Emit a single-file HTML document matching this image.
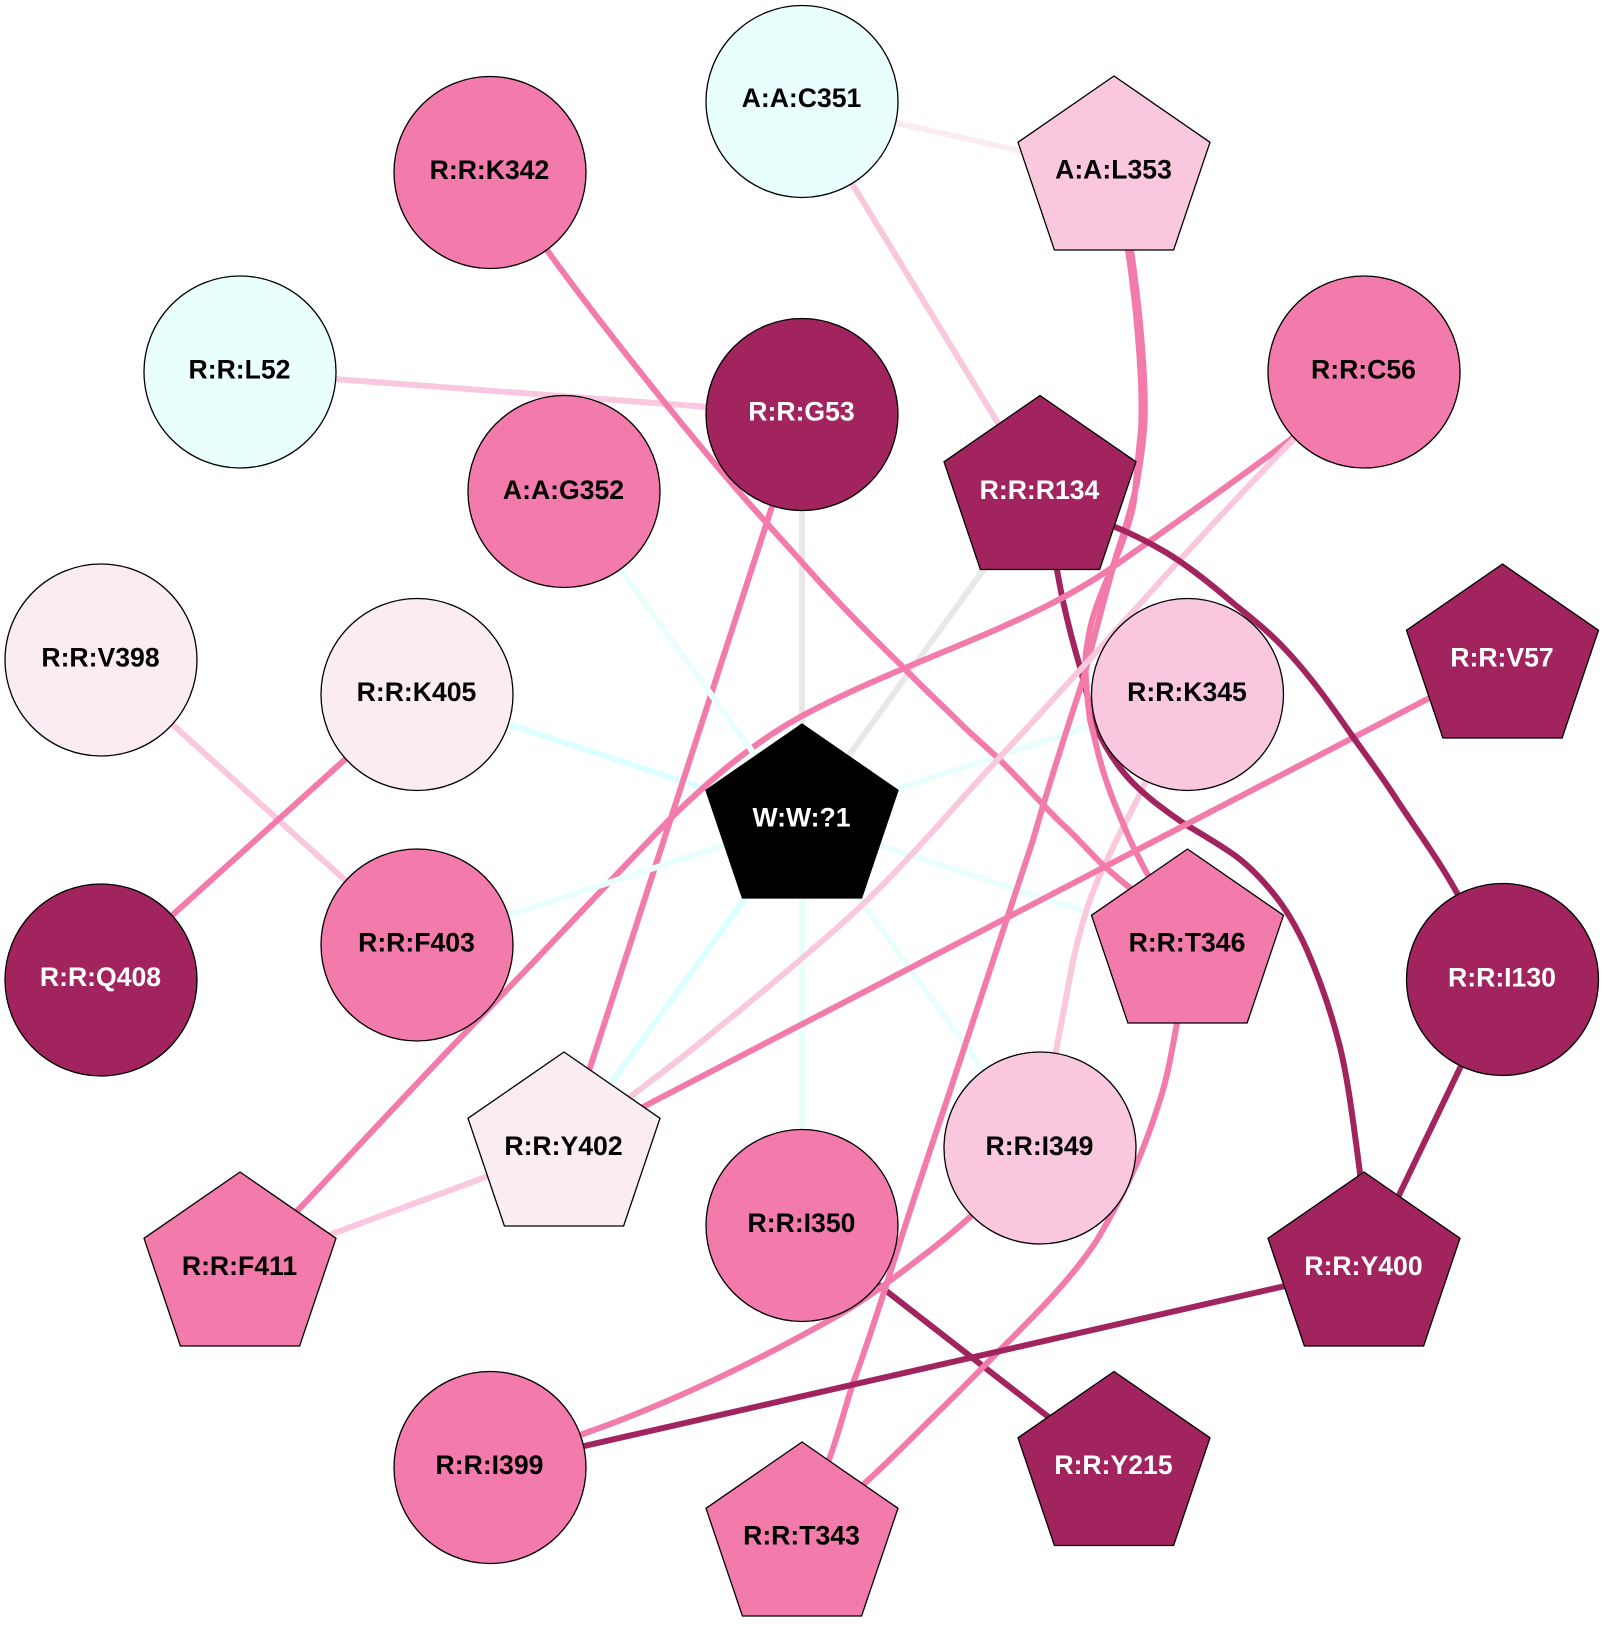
<!DOCTYPE html>
<html>
<head>
<meta charset="utf-8">
<style>
html,body{margin:0;padding:0;background:#fff;}
svg{display:block;}
text{font-family:"Liberation Sans",Arial,sans-serif;font-weight:bold;font-size:26.6px;text-anchor:middle;fill:#000;}
text.w{fill:#fff;}
.e{fill:none;stroke-width:6;}
.n{stroke:#000;stroke-width:1.3;}
.pk{stroke:#f27bab;}
.dk{stroke:#a1245f;}
.lt{stroke:#f9c8de;}
.pl{stroke:#fbebf3;}
.cy{stroke:#e8fffe;}
.cb{stroke:#dcffff;}
.gr{stroke:#e8e8e8;}
</style>
</head>
<body>
<svg width="1604" height="1640" viewBox="0 0 1604 1640" xmlns="http://www.w3.org/2000/svg">
<rect width="1604" height="1640" fill="#fff"/>
<!-- edges to W -->
<path class="e gr" d="M802,414 L802,820"/>
<path class="e gr" d="M1040,492 L802,820"/>
<path class="e cb" d="M417,694.5 L802,820"/>
<path class="e cb" d="M564,1148 L802,820"/>
<path class="e cy" d="M1187.5,694.5 L802,820"/>
<path class="e cy" d="M1187.5,945 L802,820"/>
<path class="e cy" d="M1040,1148 L802,820"/>
<path class="e cy" d="M802,1225.5 L802,820"/>
<!-- light edges -->
<path class="e pl" d="M802,101.5 L1113.5,172"/>
<path class="e lt" d="M802,101.5 L1040,492"/>
<path class="e lt" d="M240,372 L802,414"/>
<path class="e lt" d="M101,660 L417,945"/>
<path class="e lt" d="M240,1268 L564,1148"/>
<path class="e lt" d="M1040,1148 C1047,1105 1053,1065 1060,1030 C1067,995 1072,960 1080,933 C1087,905 1097,880 1107,860 C1117,838 1127,820 1137,800 L1187,694"/>
<!-- dark under pink -->
<path class="e dk" d="M802,1225.5 L1113.5,1467.5"/>
<path class="e dk" d="M1040,492 L1057,570 C1063,605 1072,640 1080,667 C1087,695 1092,715 1097,730 C1108,752 1120,770 1133,783 C1150,800 1165,810 1183,823 C1200,833 1215,842 1230,852 C1245,862 1260,877 1273,893 C1287,910 1298,930 1307,950 C1320,980 1332,1015 1340,1047 C1348,1080 1353,1120 1360,1173 L1364,1268"/>
<!-- pink edges -->
<path class="e pk" d="M417,694.5 L101,979.5"/>
<path class="e pk" d="M802,414 L564,1148"/>
<path class="e pk" d="M1502.5,660 L564,1148"/>
<path class="e pk" d="M490,172 L547,250 C590,310 660,398 716,465 C745,500 775,532 800,560 C835,600 870,635 903,667 C925,690 945,708 960,723 C975,738 990,750 1000,760 C1022,782 1040,802 1060,822 C1078,838 1090,853 1103,865 C1112,873 1120,880 1130,888 L1187.5,945"/>
<path class="e pk" d="M1364,372 L1290,440 C1250,470 1180,520 1113,567 C1070,597 1020,620 960,645 C905,668 850,690 800,717 C750,745 710,780 672,817 C620,870 560,935 500,997 C430,1068 360,1145 300,1208 L240,1268"/>
<path class="e pk" d="M1114,172 L1131,250 C1140,310 1148.5,400 1143,440 C1141,460 1138,475 1137,483 C1132,505 1125,530 1117,553 C1105,595 1095,635 1083,680 C1070,720 1050,780 1033,840 C1010,910 975,1015 947,1100 C925,1165 905,1225 887,1283 C875,1320 860,1365 853,1383 C845,1408 838,1435 830,1457 L802,1538"/>
<path class="e pk" d="M1114,172 L1128,250 C1137,310 1145,400 1140,440 C1137,465 1136,490 1133,507 C1124,545 1110,570 1100,597 C1094,612 1090,625 1088,640 C1085,655 1085,665 1086,680 C1087,695 1088,705 1090,720 C1094,735 1097,750 1100,760 C1108,790 1118,812 1130,840 C1136,852 1142,865 1148,875 L1187.5,945"/>
<path class="e pk" d="M1188,945 C1186,975 1180,1005 1177,1023 C1172,1050 1168,1075 1160,1100 C1153,1122 1146,1142 1137,1163 C1125,1190 1112,1215 1097,1240 C1072,1278 1040,1310 1007,1343 C982,1368 957,1394 930,1420 C910,1440 885,1465 865,1483 L802,1538"/>
<path class="e pk" d="M1040,1148 L970,1217 C945,1240 915,1262 887,1283 C868,1297 850,1309 830,1320 C750,1365 665,1405 583,1434 L490,1467"/>
<!-- light curve over pinks -->
<path class="e lt" d="M1364,372 L1293,440 C1250,483 1215,522 1177,563 C1145,598 1115,632 1080,670 C1055,697 1030,725 1000,757 C955,805 910,860 860,907 C825,940 765,990 700,1043 C675,1063 655,1078 630,1097 L564,1148"/>
<!-- dark on top -->
<path class="e dk" d="M1502.5,979.5 L1364,1268"/>
<path class="e dk" d="M1364,1268 L490,1467.5"/>
<path class="e dk" d="M1040,492 L1115,527 C1135,535 1150,543 1167,553 C1190,567 1212,585 1233,603 C1250,617 1267,630 1283,647 C1310,675 1333,708 1353,737 C1368,758 1383,778 1397,800 C1418,832 1440,862 1457,893 L1502,979.5"/>
<!-- pale edges on top -->
<path class="e cy" d="M564,491.5 L802,820"/>
<path class="e cy" d="M417,945 L802,820"/>

<!-- circle nodes -->
<circle class="n" cx="802" cy="101.5" r="96" fill="#e8fffe"/>
<text x="801.5" y="107">A:A:C351</text>
<circle class="n" cx="490" cy="172.5" r="96" fill="#f27bab"/>
<text x="489.5" y="179">R:R:K342</text>
<circle class="n" cx="240" cy="372" r="96" fill="#e8fffe"/>
<text x="239.5" y="378.5">R:R:L52</text>
<circle class="n" cx="802" cy="414.5" r="96" fill="#a1245f"/>
<text class="w" x="801.5" y="420.5">R:R:G53</text>
<circle class="n" cx="564" cy="491.5" r="96" fill="#f27bab"/>
<text x="563.5" y="499">A:A:G352</text>
<circle class="n" cx="1364" cy="372" r="96" fill="#f27bab"/>
<text x="1363.5" y="378.5">R:R:C56</text>
<circle class="n" cx="101" cy="660" r="96" fill="#fbebf3"/>
<text x="100.5" y="666.5">R:R:V398</text>
<circle class="n" cx="417" cy="694.5" r="96" fill="#fbebf3"/>
<text x="416.5" y="701">R:R:K405</text>
<circle class="n" cx="1187.5" cy="694.5" r="96" fill="#f9c8de"/>
<text x="1187" y="701">R:R:K345</text>
<circle class="n" cx="101" cy="980" r="96" fill="#a1245f"/>
<text class="w" x="100.5" y="986">R:R:Q408</text>
<circle class="n" cx="417" cy="945" r="96" fill="#f27bab"/>
<text x="416.5" y="951.7">R:R:F403</text>
<circle class="n" cx="1502.5" cy="979.5" r="96" fill="#a1245f"/>
<text class="w" x="1502" y="986.5">R:R:I130</text>
<circle class="n" cx="1040" cy="1148" r="96" fill="#f9c8de"/>
<text x="1039.5" y="1155">R:R:I349</text>
<circle class="n" cx="802" cy="1225.5" r="96" fill="#f27bab"/>
<text x="801.5" y="1232">R:R:I350</text>
<circle class="n" cx="490" cy="1467.5" r="96" fill="#f27bab"/>
<text x="489.5" y="1474">R:R:I399</text>

<!-- pentagon nodes -->
<polygon class="n" transform="translate(1114,172)" points="0,-96 96,-29.7 59.6,78 -59.6,78 -96,-29.7" fill="#f9c8de"/>
<text x="1113.5" y="178.5">A:A:L353</text>
<polygon class="n" transform="translate(1040,491.5)" points="0,-96 96,-29.7 59.6,78 -59.6,78 -96,-29.7" fill="#a1245f"/>
<text class="w" x="1039.5" y="499">R:R:R134</text>
<polygon class="n" transform="translate(1502.5,660)" points="0,-96 96,-29.7 59.6,78 -59.6,78 -96,-29.7" fill="#a1245f"/>
<text class="w" x="1502" y="666.5">R:R:V57</text>
<polygon class="n" transform="translate(802,820)" points="0,-96 96,-29.7 59.6,78 -59.6,78 -96,-29.7" fill="#000"/>
<text class="w" x="801.5" y="826.5">W:W:?1</text>
<polygon class="n" transform="translate(1187.5,945)" points="0,-96 96,-29.7 59.6,78 -59.6,78 -96,-29.7" fill="#f27bab"/>
<text x="1187" y="951.7">R:R:T346</text>
<polygon class="n" transform="translate(564,1148)" points="0,-96 96,-29.7 59.6,78 -59.6,78 -96,-29.7" fill="#fbebf3"/>
<text x="563.5" y="1154.8">R:R:Y402</text>
<polygon class="n" transform="translate(240,1268)" points="0,-96 96,-29.7 59.6,78 -59.6,78 -96,-29.7" fill="#f27bab"/>
<text x="239.5" y="1275">R:R:F411</text>
<polygon class="n" transform="translate(1364,1268)" points="0,-96 96,-29.7 59.6,78 -59.6,78 -96,-29.7" fill="#a1245f"/>
<text class="w" x="1363.5" y="1275">R:R:Y400</text>
<polygon class="n" transform="translate(1114,1467.5)" points="0,-96 96,-29.7 59.6,78 -59.6,78 -96,-29.7" fill="#a1245f"/>
<text class="w" x="1113.5" y="1474">R:R:Y215</text>
<polygon class="n" transform="translate(802,1538)" points="0,-96 96,-29.7 59.6,78 -59.6,78 -96,-29.7" fill="#f27bab"/>
<text x="801.5" y="1544.5">R:R:T343</text>
</svg>
</body>
</html>
